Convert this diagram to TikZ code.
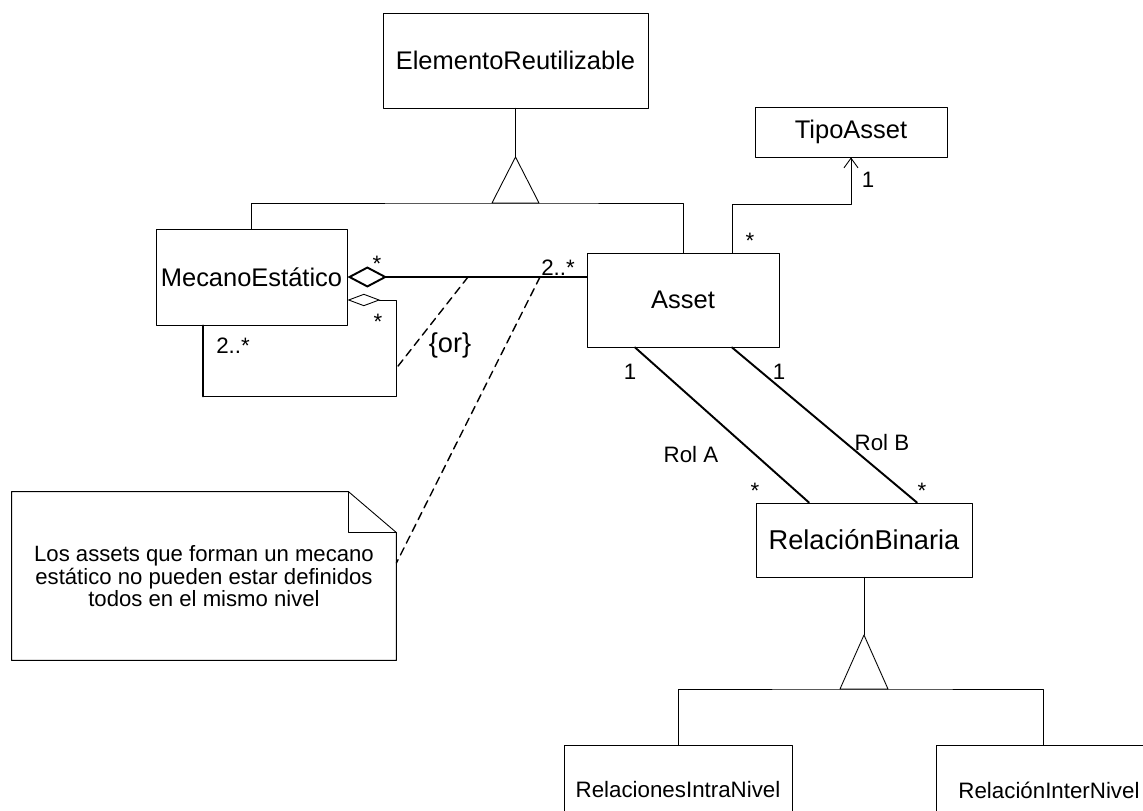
\documentclass[tikz,border=0pt]{standalone}
\usepackage{fontspec}
\setmainfont{Liberation Sans}
\usepackage{tikz}
\usetikzlibrary{positioning,calc,arrows.meta}

\begin{document}
\begin{tikzpicture}[x=0.02cm,y=-0.02cm, line cap=round, line join=round, line width=0.5pt]
		% ===== marco =====
		\useasboundingbox (0,0) rectangle (1143,811);
		\fill[white] (0,0) rectangle (1143,811);
		\clip (0,0) rectangle (1143,811);
		
		% ===== estilos =====
		\tikzset{
			clase/.style={draw, inner sep=0pt, align=center, font=\fontsize{14.5}{17}\selectfont},
			mult/.style={inner sep=0pt, font=\fontsize{12.7}{15}\selectfont},
			grueso/.style={line width=1.1pt},
			discont/.style={line width=0.8pt, dash pattern=on 4.5pt off 3pt},
			notatxt/.style={inner sep=0pt, align=center, font=\fontsize{12.6}{11.4}\selectfont},
		}
		
		% ===== clases =====
		\node[clase, minimum width=5.3cm, minimum height=1.9cm] (elemento) at (515.5,60.5) {ElementoReutilizable};
		\node[clase, minimum width=3.82cm, minimum height=1.92cm] (mecano) at (251.5,277) {MecanoEstático};
		\node[clase, minimum width=3.84cm, minimum height=1.88cm] (asset) at (683,300) {Asset};
		\node[clase, minimum width=3.84cm, minimum height=1cm] (tipo) at (851,132) {TipoAsset};
		\node[clase, minimum width=4.32cm, minimum height=1.48cm, font=\fontsize{15.5}{18}\selectfont] (binaria) at (864,540) {RelaciónBinaria};
		\node[clase, minimum width=4.56cm, minimum height=1.8cm, font=\fontsize{12.7}{15}\selectfont] (intra) at (678,790) {RelacionesIntraNivel};
		\node[clase, minimum width=4.52cm, minimum height=1.8cm, font=\fontsize{12.7}{15}\selectfont] (inter) at (1049,790) {RelaciónInterNivel};
		
		% ===== herencia de ElementoReutilizable =====
		\coordinate (gen1tip) at (515.5,157);
		\coordinate (gen1) at (515.5,203);
		\draw (elemento.south) -- (gen1tip);
		\draw (gen1tip) -- ++(23.5,46) -- ++(-47,0) -- cycle;
		\draw (mecano.north) |- (gen1) -| (asset.north);
		
		% ===== herencia de RelaciónBinaria =====
		\coordinate (gen2tip) at (864,635);
		\coordinate (gen2) at (864,689);
		\draw (binaria.south) -- (gen2tip);
		\draw (gen2tip) -- ++(24,54) -- ++(-48,0) -- cycle;
		\draw (intra.north) |- (gen2) -| ([xshift=-0.12cm]inter.north);
		
		% ===== Asset -> TipoAsset =====
		\draw[-{Straight Barb[length=5.5pt,width=8pt]}] ([xshift=0.98cm]asset.north) -- ++(0,-48) -| (tipo.south);
		
		% ===== agregaciones =====
		\draw[grueso, {Diamond[open,length=22.7pt,width=12pt]}-] (mecano.east) -- (mecano.east -| asset.west);
		\draw[{Diamond[open,length=18.7pt,width=7pt]}-] ([yshift=-0.46cm]mecano.east) -- ++(49,0) coordinate (lazo1)
			-- ++(0,96) coordinate (lazo2) -| ([xshift=-0.97cm]mecano.south);
		\draw[line width=1pt] ([xshift=-0.97cm]mecano.south) -- ++(0,71);
		
		% ===== Asset -- RelaciónBinaria =====
		\draw[grueso] ([xshift=-0.96cm]asset.south) -- ([xshift=-1.1cm]binaria.north);
		\draw[grueso] ([xshift=0.98cm]asset.south) -- ([xshift=1.06cm]binaria.north);
		
		% ===== nota =====
		\node[notatxt, minimum width=7.68cm, minimum height=3.36cm] (nota) at (204,576)
			{Los assets que forman un mecano\\estático no pueden estar definidos\\todos en el mismo nivel};
		\draw (nota.north west) -- ([xshift=-0.96cm]nota.north east) coordinate (pliegue)
			-- ([yshift=-0.82cm]nota.north east) coordinate (pliegue2) -- (nota.south east) -- (nota.south west) -- cycle;
		\draw (pliegue) |- (pliegue2);
		
		% ===== restricciones =====
		\coordinate (or1) at (468,277);
		\coordinate (or2) at (540,277);
		\draw[discont] (or1) -- ($(lazo1)!0.71!(lazo2)$);
		\draw[discont] (or2) -- ([yshift=0.26cm]nota.east);
		
		% ===== multiplicidades =====
		\node[mult] (m1) at (377,264) {*};
		\node[mult] (m2) at (558,268) {2..*};
		\node[mult] (m3) at (378,322) {*};
		\node[mult] (m4) at (233,346) {2..*};
		\node[mult, font=\fontsize{15.5}{18}\selectfont] (or) at (450,345) {\{or\}};
		\node[mult] (m5) at (868,180) {1};
		\node[mult] (m6) at (750,241) {*};
		\node[mult] (m7) at (630,372) {1};
		\node[mult] (m8) at (779,372) {1};
		\node[mult] (rolA) at (691,455) {Rol A};
		\node[mult] (rolB) at (882,443) {Rol B};
		\node[mult] (m9) at (755,491) {*};
		\node[mult] (m10) at (922,491) {*};
	\end{tikzpicture}
\end{document}
